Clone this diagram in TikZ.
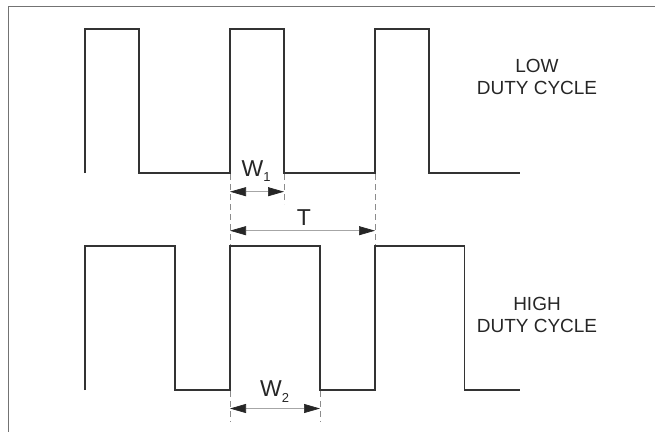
\documentclass[tikz,border=0pt]{standalone}
\usepackage{fontspec}
\setmainfont{Liberation Sans}
\usetikzlibrary{arrows.meta}
\begin{document}
\begin{tikzpicture}[x=1pt,y=-1pt,
  wave/.style={draw=black!80,line width=1.4pt,line join=miter},
  frame/.style={draw=black!55,line width=1.3pt},
  guide/.style={draw=black!45,line width=0.6pt,dash pattern=on 6pt off 4pt},
  dim/.style={draw=black!35,line width=0.7pt,
    {Triangle[length=16pt,width=9pt,color=black!85]}-{Triangle[length=16pt,width=9pt,color=black!85]}},
  lbl/.style={inner sep=0pt,anchor=base,font=\fontsize{19}{19}\selectfont,text=black!85,align=center},
  big/.style={inner sep=0pt,anchor=base west,font=\fontsize{23}{23}\selectfont,text=black!85}]
\useasboundingbox (0,0) rectangle (655,431);
\draw[frame] (8.3,440) -- (8.3,6.2) -- (665,6.2);
% top waveform
\draw[wave] (85,173) -- (85,29) -- (139,29) -- (139,173) -- (230,173) -- (230,29) -- (284,29) -- (284,173) -- (375,173) -- (375,29) -- (429,29) -- (429,173) -- (520,173);
% bottom waveform
\draw[wave] (85,390) -- (85,246) -- (175,246) -- (175,390) -- (230,390) -- (230,246) -- (320,246) -- (320,390) -- (375,390) -- (375,246) -- (464.5,246) -- (464.5,390) -- (520,390);
% guide coordinates
\coordinate (ga1) at (230,174);
\coordinate (ga2) at (230,245);
\coordinate (gb1) at (284,174);
\coordinate (gb2) at (284,204);
\coordinate (gc1) at (375,174);
\coordinate (gc2) at (375,245);
\coordinate (gd1) at (230,391);
\coordinate (gd2) at (230,422);
\coordinate (ge1) at (320,391);
\coordinate (ge2) at (320,422);
\draw[guide] (ga1) -- (ga2);
\draw[guide] (gb1) -- (gb2);
\draw[guide] (gc1) -- (gc2);
\draw[guide] (gd1) -- (gd2);
\draw[guide] (ge1) -- (ge2);
% dimension arrows
\coordinate (w1l) at (230,191.7);
\coordinate (w1r) at (284,191.7);
\coordinate (tl) at (230,230.7);
\coordinate (tr) at (375,230.7);
\coordinate (w2l) at (230,408.5);
\coordinate (w2r) at (320,408.5);
\draw[dim] (w1l) -- (w1r);
\draw[dim] (tl) -- (tr);
\draw[dim] (w2l) -- (w2r);
% labels
\node[big] (w1) at (241.5,176.7) {W\raisebox{-5pt}{\fontsize{13}{13}\selectfont 1}};
\node[big,anchor=base] (t) at (304,225) {T};
\node[big] (w2) at (260,396.7) {W\raisebox{-6pt}{\fontsize{13}{13}\selectfont 2}};
\node[lbl] (low) at (537,72) {LOW};
\node[lbl] (dc1) at (537,94.3) {DUTY CYCLE};
\node[lbl] (high) at (537,310.7) {HIGH};
\node[lbl] (dc2) at (537,332.7) {DUTY CYCLE};
\end{tikzpicture}
\end{document}
